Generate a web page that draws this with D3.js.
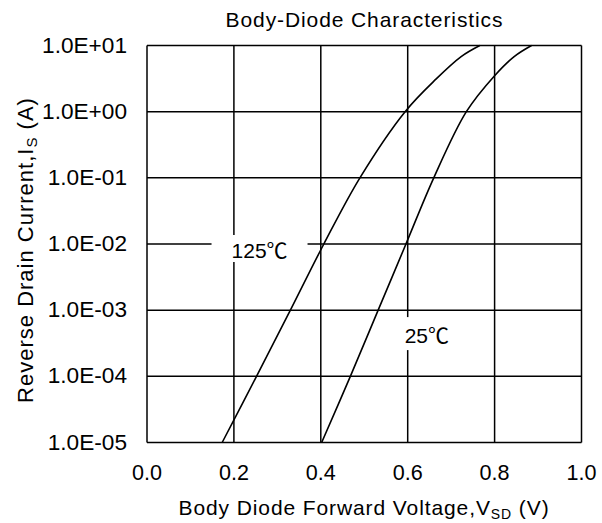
<!DOCTYPE html>
<html>
<head>
<meta charset="utf-8">
<script src="https://cdn.jsdelivr.net/npm/d3@7"></script>
<style>
	body { margin: 0; background: #fff; }
	svg text { font-family: Arial, 'Liberation Sans', sans-serif; }
	svg text tspan.deg { font-family: 'Noto Sans CJK SC', 'DejaVu Sans', sans-serif; }
</style>
</head>
<body>
<svg></svg>
<script>
// values
var xTicks = [0.0, 0.2, 0.4, 0.6, 0.8, 1.0]
var yTicks = [1e-5, 1e-4, 1e-3, 1e-2, 1e-1, 1e0, 1e1]
var yTickLabels = ['1.0E-05', '1.0E-04', '1.0E-03', '1.0E-02', '1.0E-01', '1.0E+00', '1.0E+01']

var vsd125 = [0.173, 0.252, 0.330, 0.407, 0.490, 0.594, 0.665, 0.723, 0.766]
var is125 = [1e-5, 1e-4, 1e-3, 1e-2, 1e-1, 1, 3.1, 6.8, 10]
var vsd25 = [0.402, 0.468, 0.532, 0.596, 0.660, 0.735, 0.800, 0.845, 0.885]
var is25 = [1e-5, 1e-4, 1e-3, 1e-2, 1e-1, 1, 3.5, 6.8, 10]

var seriesNames = ['125', '25']
var labelAt = [[0.259, 1e-2], [0.644, 4.2e-4]]

var width = 602
var height = 523

var svg = d3.select('svg').attr('width', width).attr('height', height)

var x = d3.scaleLinear().domain([0, 1]).range([147, 581.5])
var y = d3.scaleLog().domain([1e-5, 1e1]).range([442.5, 45.5])

// scale a text's font so it spans the width seen in the reference
function fitWidth(sel, target) {
	var node = sel.node()
	var fs = +sel.attr('font-size')
	var w = node.getComputedTextLength()
	if (w > 0) sel.attr('font-size', Math.min(fs * 1.25, Math.max(fs * 0.8, fs * target / w)))
	return +sel.attr('font-size')
}

// grid
var grid = svg.append('g').attr('class', 'grid')
grid.selectAll('line.v').data(xTicks).enter().append('line')
	.attr('x1', function(d) {return x(d)})
	.attr('x2', function(d) {return x(d)})
	.attr('y1', y(1e-5))
	.attr('y2', y(1e1))
	.attr('stroke', '#000')
	.attr('stroke-width', 1.5)
grid.selectAll('line.h').data(yTicks).enter().append('line')
	.attr('x1', x(0))
	.attr('x2', x(1))
	.attr('y1', function(d) {return y(d)})
	.attr('y2', function(d) {return y(d)})
	.attr('stroke', '#000')
	.attr('stroke-width', 1.5)

// axis labels
var xLabels = svg.append('g').selectAll('text').data(xTicks).enter().append('text')
	.attr('x', function(d) {return x(d)})
	.attr('y', 480)
	.attr('text-anchor', 'middle')
	.attr('font-size', 21.5)
	.text(function(d) {return d.toFixed(1)})
var xfs = fitWidth(d3.select(xLabels.nodes()[0]), 30)
xLabels.attr('font-size', xfs)

var yLabels = svg.append('g').selectAll('text').data(yTicks).enter().append('text')
	.attr('x', 127)
	.attr('y', function(d) {return y(d) + 7})
	.attr('text-anchor', 'end')
	.attr('font-size', 19.5)
	.text(function(d, i) {return yTickLabels[i]})
var yfs = fitWidth(d3.select(yLabels.nodes()[6]), 85)
yLabels.attr('font-size', yfs)

// curves
var line = d3.line()
	.x(function(d) {return x(d[0])})
	.y(function(d) {return y(d[1])})
	.curve(d3.curveCatmullRom.alpha(0.5))

var series = [d3.zip(vsd125, is125), d3.zip(vsd25, is25)]
svg.append('g').selectAll('path').data(series).enter().append('path')
	.attr('d', line)
	.attr('fill', 'none')
	.attr('stroke', '#000')
	.attr('stroke-width', 1.6)

// temperature labels on white boxes
var boxes = svg.append('g').selectAll('g').data(seriesNames).enter().append('g')
	.attr('transform', function(d, i) {return 'translate(' + x(labelAt[i][0]) + ',' + y(labelAt[i][1]) + ')'})
boxes.append('rect')
	.attr('x', function(d, i) {return i == 0 ? -48 : -32})
	.attr('y', function(d, i) {return i == 0 ? -9 : -18})
	.attr('width', function(d, i) {return i == 0 ? 96 : 64})
	.attr('height', function(d, i) {return i == 0 ? 27 : 33})
	.attr('fill', '#fff')
var lbl = boxes.append('text')
	.attr('y', function(d, i) {return i == 0 ? 13.7 : 8})
	.attr('text-anchor', 'middle')
	.attr('font-size', 21)
lbl.append('tspan').text(function(d) {return d})
lbl.append('tspan').attr('class', 'deg').text('℃')

// title
svg.append('text')
	.attr('x', 364.5)
	.attr('y', 27)
	.attr('text-anchor', 'middle')
	.attr('font-size', 21)
	.attr('letter-spacing', 0.9)
	.text('Body-Diode Characteristics')

// x title
var xt = svg.append('text')
	.attr('x', 364)
	.attr('y', 515)
	.attr('text-anchor', 'middle')
	.attr('font-size', 21)
	.attr('letter-spacing', 0.9)
xt.append('tspan').text('Body Diode Forward Voltage,V')
xt.append('tspan').attr('font-size', 14).attr('dy', 4).text('SD')
xt.append('tspan').attr('dy', -4).text(' (V)')

// y title
var yt = svg.append('text')
	.attr('transform', 'translate(33,250) rotate(-90)')
	.attr('text-anchor', 'middle')
	.attr('font-size', 22)
	.attr('letter-spacing', 1)
yt.append('tspan').text('Reverse Drain Current,I')
yt.append('tspan').attr('font-size', 15).attr('dy', 4).text('S')
yt.append('tspan').attr('dy', -4).text(' (A)')
</script>
</body>
</html>
